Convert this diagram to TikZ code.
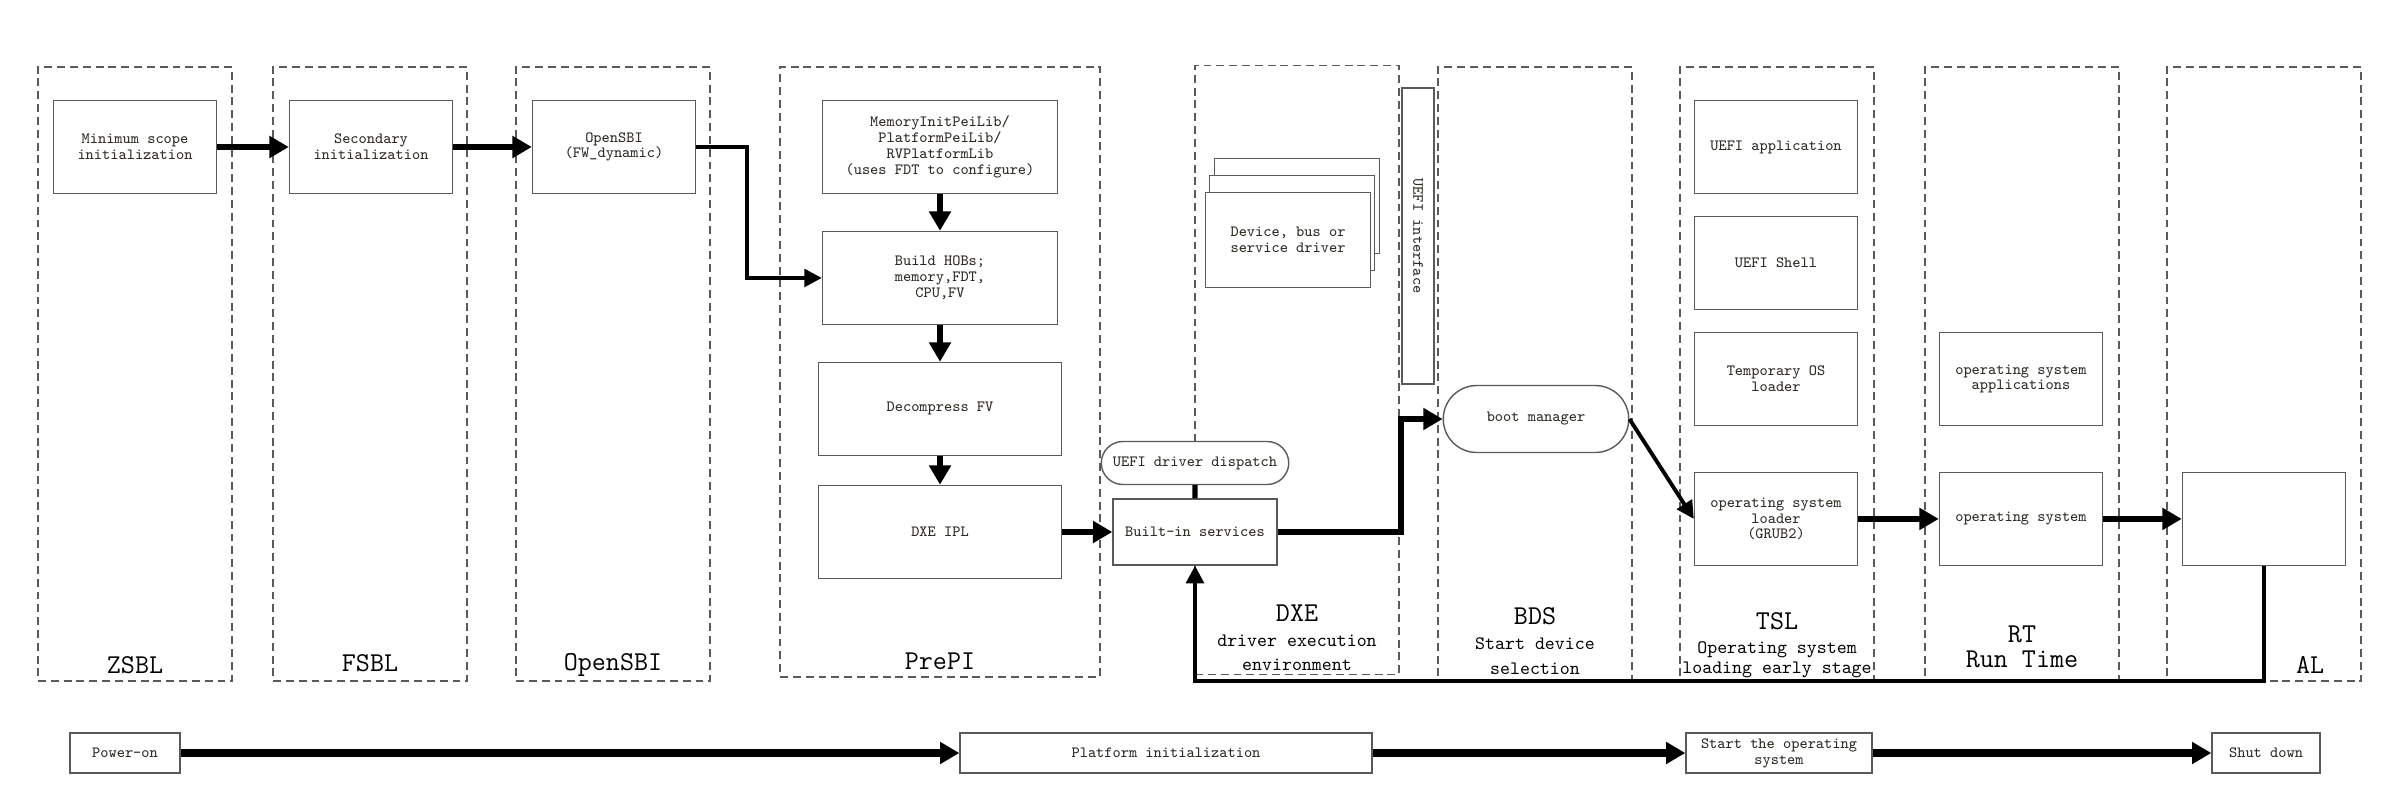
\documentclass[tikz,border=0pt]{standalone}
\usetikzlibrary{arrows.meta, positioning, shapes.misc}
\definecolor{ink}{HTML}{2E2A24}
\definecolor{rule}{HTML}{5A5A5A}
\newcommand{\phasetitle}[1]{{\fontsize{15.5}{17}\selectfont #1}}

\begin{document}
\begin{tikzpicture}[x=0.02cm, y=-0.02cm, node distance=2.62cm,
	box/.style={draw=rule, line width=0.8pt, fill=white, text=ink, align=center,
		font=\ttfamily\fontsize{8.9}{9}\selectfont, inner sep=1pt,
		minimum width=3.26cm, minimum height=1.86cm},
	pill/.style={box, rounded rectangle},
	phase/.style={draw=rule, line width=0.8pt, dash pattern=on 4.5pt off 2.8pt,
		minimum width=3.88cm, minimum height=12.28cm, inner sep=0pt},
	phasename/.style={align=center, font=\ttfamily\fontsize{10.8}{14}\selectfont},
	tick/.style={box, minimum height=0.8cm},
	flow/.style={line width=3.2pt, -{Triangle[length=11pt,width=12pt]}},
	slimflow/.style={line width=2.2pt, -{Triangle[length=10pt,width=10pt]}},
	bigflow/.style={line width=4pt, -{Triangle[length=11pt,width=12pt]}}]
	\useasboundingbox (0,0) rectangle (2390,794);

	% stages
	\node[phase] (zsbl) at (135,374) {};
	\node[phase] (fsbl) at (370,374) {};
	\node[phase] (sbi) at (613,374) {};
	\node[phase, minimum width=6.4cm, minimum height=12.2cm] (prepi) at (940,372) {};
	\node[phase, minimum width=4.08cm, minimum height=12.18cm] (dxe) at (1297,370) {};
	\node[phase] (bds) at (1535,374) {};
	\node[phase] (tsl) at (1777,374) {};
	\node[phase] (rt) at (2022,374) {};
	\node[phase] (al) at (2264,374) {};

	\node[phasename] at (135,665) {\phasetitle{ZSBL}};
	\node[phasename] at (370,663) {\phasetitle{FSBL}};
	\node[phasename] at (613,665) {\phasetitle{OpenSBI}};
	\node[phasename] at (940,661) {\phasetitle{PrePI}};
	\node[phasename] at (1297,638) {\phasetitle{DXE}\\driver execution\\environment};
	\node[phasename] at (1535,641) {\phasetitle{BDS}\\Start device\\selection};
	\node[phasename] at (1777,645) {\phasetitle{TSL}\\Operating system\\[-3pt]loading early stage};
	\node[phasename] at (2022,647) {\phasetitle{RT}\\[0pt]\phasetitle{Run Time}};
	\node[phasename] at (2310,665) {\phasetitle{AL}};

	% early boot
	\node[box] (minscope) at (135,147) {Minimum scope\\initialization};
	\node[box] (secinit) at (371,147) {Secondary\\initialization};
	\node[box] (opensbi) at (614,147) {OpenSBI\\(FW\_dynamic)};

	% PrePI
	\node[box, minimum width=4.7cm] (meminit) at (940,147)
		{MemoryInitPeiLib/\\PlatformPeiLib/\\RVPlatformLib\\(uses FDT to configure)};
	\node[box, minimum width=4.7cm] (hobs) [below of=meminit] {Build HOBs;\\memory,FDT,\\CPU,FV};
	\node[box, minimum width=4.86cm] (decomp) [below of=hobs] {Decompress FV};
	\node[box, minimum width=4.86cm] (dxeipl) [below of=decomp, node distance=2.46cm] {DXE IPL};

	% DXE
	\node[box, minimum width=3.3cm, minimum height=1.9cm] (drvback) at (1297,206) {};
	\node[box, minimum width=3.3cm, minimum height=1.9cm] (drvmid) at (1292,223) {};
	\node[box, minimum width=3.3cm, minimum height=1.9cm] (driver) at (1288,240)
		{Device, bus or\\service driver};
	\node[box, minimum width=3.28cm, minimum height=1.32cm] (builtin) at (1195,532) {Built-in services};
	\node[pill, minimum width=3.82cm, minimum height=0.86cm] (dispatch) at (1195,463) {UEFI driver dispatch};
	\node[box, rotate=-90, minimum width=5.92cm, minimum height=0.64cm] (uefiif) at (1418,236) {UEFI interface};

	% BDS, TSL, RT, AL
	\node[pill, minimum width=3.78cm, minimum height=1.34cm] (bootmgr) at (1536,419) {boot manager};
	\node[box] (uefiapp) at (1776,147) {UEFI application};
	\node[box] (shell) [below of=uefiapp, node distance=2.32cm] {UEFI Shell};
	\node[box] (tmpldr) [below of=shell, node distance=2.32cm] {Temporary OS\\loader};
	\node[box] (osloader) [below of=tmpldr, node distance=2.8cm] {operating system\\loader\\(GRUB2)};
	\node[box] (osapps) [right of=tmpldr, node distance=4.9cm] {operating system\\applications};
	\node[box] (os) [below of=osapps, node distance=2.8cm] {operating system};
	\node[box] (albox) [right of=os, node distance=4.86cm] {};

	% timeline
	\node[tick, minimum width=2.2cm] (poweron) at (125,753) {Power-on};
	\node[tick, minimum width=8.24cm] (platinit) at (1166,753) {Platform initialization};
	\node[tick, minimum width=3.72cm] (startos) at (1779,753) {Start the operating\\system};
	\node[tick, minimum width=2.16cm] (shutdown) at (2266,753) {Shut down};

	\coordinate (j1) at (747,147);
	\coordinate (j2) at (1401,419);
	\coordinate (j3) at (2264,681);

	\path[flow] (minscope) edge (secinit);
	\path[flow] (secinit) edge (opensbi);
	\draw[slimflow] (opensbi.east) -- (j1) |- (hobs.west);
	\path[flow] (meminit) edge (hobs);
	\path[flow] (hobs) edge (decomp);
	\path[flow] (decomp) edge (dxeipl);
	\path[flow] (dxeipl) edge (builtin);
	\draw[line width=3pt] (builtin) -- (dispatch);
	\draw[flow] (builtin.east) -| (j2) -- (bootmgr.west);
	\draw[slimflow] (bootmgr.east) -- (osloader.west);
	\path[flow] (osloader) edge (os);
	\path[flow] (os) edge (albox);
	\draw[slimflow] (albox.south) -- (j3) -| (builtin.south);

	\path[bigflow] (poweron) edge (platinit);
	\path[bigflow] (platinit) edge (startos);
	\path[bigflow] (startos) edge (shutdown);
\end{tikzpicture}
\end{document}
